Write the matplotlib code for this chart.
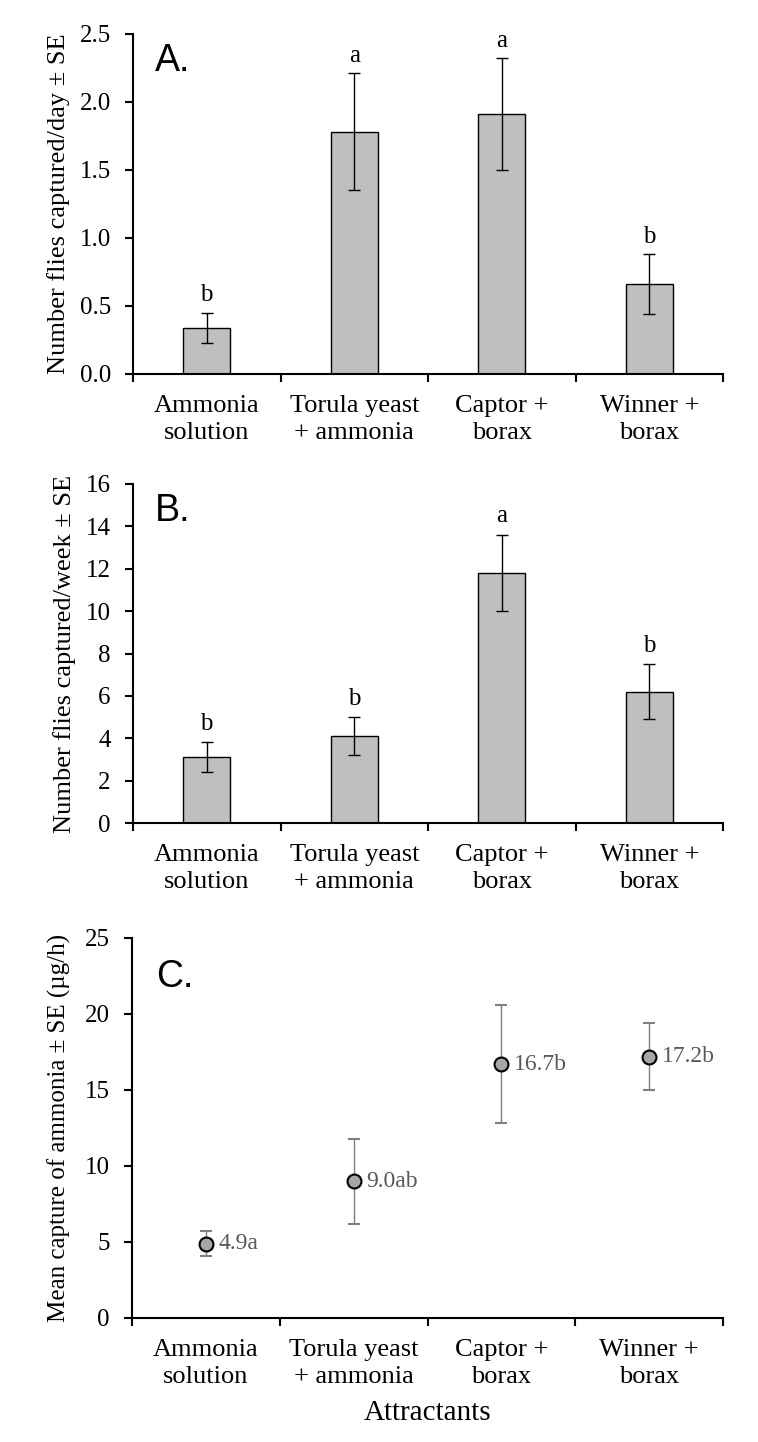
import numpy as np
import matplotlib
matplotlib.use("Agg")
import matplotlib.pyplot as plt

plt.rcParams["font.family"] = ["Liberation Serif", "DejaVu Serif"]

categories = ["Ammonia\nsolution", "Torula yeast\n+ ammonia", "Captor +\nborax", "Winner +\nborax"]

# A: flies captured per day
day_mean = [0.34, 1.78, 1.91, 0.66]
day_se = [0.11, 0.43, 0.41, 0.22]
day_letters = ["b", "a", "a", "b"]

# B: flies captured per week
week_mean = [3.1, 4.1, 11.8, 6.2]
week_se = [0.7, 0.9, 1.8, 1.3]
week_letters = ["b", "b", "a", "b"]

# C: ammonia capture
amm_mean = [4.9, 9.0, 16.7, 17.2]
amm_se = [0.8, 2.8, 3.9, 2.2]
amm_labels = ["4.9a", "9.0ab", "16.7b", "17.2b"]

W, H = 758, 1442
fig = plt.figure(figsize=(W / 100, H / 100), dpi=100)


def frac(left, top, right, bottom):
    return [left / W, 1 - bottom / H, (right - left) / W, (bottom - top) / H]


def style_axis(ax, ymax, step, fmt):
    ax.set_xlim(0, 4)
    ax.set_ylim(0, ymax)
    vals = np.arange(0, ymax + step / 2, step)
    ax.set_yticks(vals)
    ax.set_yticklabels([fmt.format(v) for v in vals])
    ax.set_xticks([0, 1, 2, 3, 4])
    ax.set_xticklabels([])
    ax.set_xticks(np.arange(4) + 0.5, minor=True)
    ax.set_xticklabels(categories, minor=True, fontsize=19, linespacing=1.3)
    ax.tick_params(axis="x", which="minor", length=0, pad=15)
    ax.tick_params(axis="x", which="major", length=6, width=1.5, direction="out")
    ax.tick_params(axis="y", length=6, width=1.5, direction="out", labelsize=18, pad=10)
    for s in ["top", "right"]:
        ax.spines[s].set_visible(False)
    for s in ["left", "bottom"]:
        ax.spines[s].set_linewidth(1.5)


x = np.arange(4) + 0.5

# Panel A
axA = fig.add_axes(frac(133, 34, 723, 374))
axA.bar(x, day_mean, width=0.32, color="#BFBFBF", edgecolor="black", linewidth=1)
axA.errorbar(x, day_mean, yerr=day_se, fmt="none", ecolor="black", elinewidth=1, capsize=4, capthick=1)
for xi, m, s, lt in zip(x, day_mean, day_se, day_letters):
    axA.text(xi, m + s + 0.05, lt, ha="center", va="bottom", fontsize=18)
style_axis(axA, 2.5, 0.5, "{:.1f}")
axA.set_ylabel("Number flies captured/day \u00b1 SE", fontsize=19, labelpad=7)
axA.text(0.037, 0.92, "A.", transform=axA.transAxes, fontsize=27, family="Liberation Sans", va="center")

# Panel B
axB = fig.add_axes(frac(133, 484, 723, 823))
axB.bar(x, week_mean, width=0.32, color="#BFBFBF", edgecolor="black", linewidth=1)
axB.errorbar(x, week_mean, yerr=week_se, fmt="none", ecolor="black", elinewidth=1, capsize=4, capthick=1)
for xi, m, s, lt in zip(x, week_mean, week_se, week_letters):
    axB.text(xi, m + s + 0.35, lt, ha="center", va="bottom", fontsize=18)
style_axis(axB, 16, 2, "{:.0f}")
axB.set_ylabel("Number flies captured/week \u00b1 SE", fontsize=19, labelpad=7)
axB.text(0.037, 0.92, "B.", transform=axB.transAxes, fontsize=27, family="Liberation Sans", va="center")

# Panel C
axC = fig.add_axes(frac(132, 938, 723, 1318))
axC.errorbar(x, amm_mean, yerr=amm_se, fmt="o", color="#595959", ecolor="#7F7F7F", elinewidth=1,
             capsize=4, capthick=1, markersize=10, markerfacecolor="#A6A6A6",
             markeredgecolor="black", markeredgewidth=1.5)
for xi, m, lt in zip(x, amm_mean, amm_labels):
    axC.text(xi + 0.085, m, lt, ha="left", va="center", fontsize=17, color="#595959")
style_axis(axC, 25, 5, "{:.0f}")
axC.set_ylabel("Mean capture of ammonia \u00b1 SE (\u00b5g/h)", fontsize=18, labelpad=10)
axC.set_xlabel("Attractants", fontsize=21, labelpad=9)
axC.text(0.04, 0.897, "C.", transform=axC.transAxes, fontsize=27, family="Liberation Sans", va="center")

fig.savefig("out.png", dpi=100)
